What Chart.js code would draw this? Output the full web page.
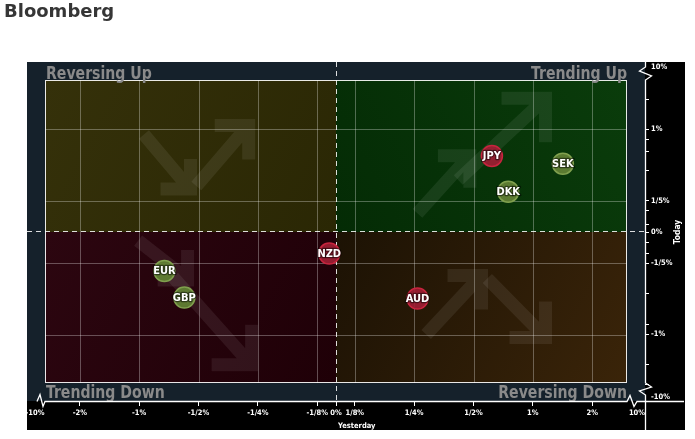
<!DOCTYPE html>
<html>
<head>
<meta charset="utf-8">
<title>Bloomberg</title>
<script src="https://cdn.jsdelivr.net/npm/chart.js@4.4.0/dist/chart.umd.min.js"></script>
<style>
    html, body { margin: 0; padding: 0; background: #fff; }
    #wrap { position: relative; width: 695px; height: 439px; }
    #title {
        position: absolute; left: 4px; top: 2px;
        font: bold 18px "DejaVu Sans", sans-serif; line-height: 18px;
        color: #363636;
    }
    canvas { display: block; }
</style>
</head>
<body>
<div id="wrap">
    <canvas id="trendChart" width="695" height="439"></canvas>
    <div id="title">Bloomberg</div>
</div>
<script>
// Data (percent change)
const currencies   = ['JPY', 'SEK', 'DKK', 'NZD', 'AUD', 'EUR', 'GBP'];
const yesterdayPct = [0.62, 1.42, 0.75, -0.045, 0.26, -0.745, -0.59];
const todayPct     = [0.63, 0.54, 0.27, -0.13, -0.52, -0.26, -0.51];
const redCurrencies = ['JPY', 'NZD', 'AUD'];

const xTickValues = [-10, -2, -1, -0.5, -0.25, -0.125, 0, 0.125, 0.25, 0.5, 1, 2, 10];
const xTickLabels = ['-10%', '-2%', '-1%', '-1/2%', '-1/4%', '-1/8%', '0%', '1/8%', '1/4%', '1/2%', '1%', '2%', '10%'];
const yTickValues = [10, 1, 0.2, 0, -0.2, -1, -10];
const yTickLabels = ['10%', '1%', '1/5%', '0%', '-1/5%', '-1%', '-10%'];
const yMinorTicks = [5.1, 0.85, 0.68, 0.47, 0.13, 0.04, -0.06, -0.13, -0.47, -0.85, -5.1, -7.8];
const xGridValues = [-2, -1, -0.5, -0.25, -0.125, 0.125, 0.25, 0.5, 1, 2];
const yGridValues = [1, 0.2, -0.2, -1];

const quadrantNames = ['Reversing Up', 'Trending Up', 'Trending Down', 'Reversing Down'];
const axisNames = { x: 'Yesterday', y: 'Today' };

const LABEL_FONT = '"DejaVu Sans Condensed", "DejaVu Sans", sans-serif';

// x: linear to 1/8%, one doubling per step up to 2%, broken above
function sx(v) {
    const a = Math.abs(v);
    let d;
    if (a <= 0.125) d = 18.8 * a / 0.125;
    else if (a <= 2) d = 18.8 + 59.35 * Math.log2(a / 0.125);
    else d = 256.2 + 52.8 * (a - 2) / 8;
    return Math.sign(v) * d;
}

// y: log-like up to 1%, broken above
function sy(v) {
    const a = Math.abs(v);
    let d;
    if (a <= 1) d = 93.3 * Math.log(1 + a / 0.5);
    else d = 102.5 + 66.5 * (a - 1) / 9;
    return Math.sign(v) * d;
}

class TrendChart {
    constructor(canvasId) {
        this.canvas = document.getElementById(canvasId);
        this.init();
    }

    init() {
        const yTicks = yTickValues.map((v, i) => ({ v, label: yTickLabels[i] }))
            .concat(yMinorTicks.map(v => ({ v, label: '' })));
        this.yTicks = yTicks;

        this.chart = new Chart(this.canvas, {
            type: 'scatter',
            data: {
                datasets: [{
                    data: currencies.map((c, i) => ({ x: sx(yesterdayPct[i]), y: sy(todayPct[i]) })),
                    backgroundColor: currencies.map(c => redCurrencies.includes(c) ? 'rgba(158,30,52,0.92)' : 'rgba(96,126,52,0.95)'),
                    borderColor: currencies.map(c => redCurrencies.includes(c) ? '#c8243e' : '#80a04e'),
                    borderWidth: 1.5,
                    pointRadius: 10.5,
                    pointHoverRadius: 10.5
                }]
            },
            options: {
                responsive: false,
                animation: false,
                layout: { padding: { left: 27, top: 62, right: 0, bottom: 8 } },
                plugins: {
                    legend: { display: false },
                    tooltip: { enabled: false }
                },
                scales: {
                    x: {
                        type: 'linear',
                        min: -309, max: 309,
                        afterBuildTicks: s => {
                            s.ticks = xTickValues.map(v => ({
                                value: Math.abs(v) === 10 ? Math.sign(v) * (Math.abs(sx(v)) - 8) : sx(v)
                            }));
                        },
                        afterFit: s => { s.height = 30; },
                        ticks: {
                            autoSkip: false, maxRotation: 0, padding: 3,
                            color: '#fff',
                            font: { family: LABEL_FONT, size: 7.5, weight: 'bold' },
                            callback: (val, i) => xTickLabels[i]
                        },
                        grid: {
                            drawOnChartArea: false, tickLength: 5, tickWidth: 1,
                            tickColor: c => (c.tick && Math.abs(c.tick.value) > 290) ? 'rgba(0,0,0,0)' : '#fff'
                        },
                        border: { display: false }
                    },
                    y: {
                        type: 'linear',
                        position: 'right',
                        min: -169, max: 170,
                        afterBuildTicks: s => {
                            s.ticks = yTicks.map(t => ({
                                value: Math.abs(t.v) === 10 ? Math.sign(t.v) * (Math.abs(sy(t.v)) - 4) : sy(t.v)
                            }));
                        },
                        afterFit: s => { s.width = 50; },
                        ticks: {
                            autoSkip: false, padding: 2,
                            color: '#fff',
                            font: { family: LABEL_FONT, size: 7.5, weight: 'bold' },
                            callback: (val, i) => yTicks[i].label
                        },
                        grid: {
                            drawOnChartArea: false, tickLength: 4, tickWidth: 1,
                            tickColor: c => (c.tick && Math.abs(c.tick.value) > 160) ? 'rgba(0,0,0,0)' : '#fff'
                        },
                        border: { display: false }
                    }
                }
            },
            plugins: [
                { id: 'background', beforeDraw: chart => this.drawBackground(chart) },
                { id: 'axisLines', afterDraw: chart => this.drawAxes(chart) },
                { id: 'pointLabels', afterDatasetsDraw: chart => this.drawPointLabels(chart) }
            ]
        });
    }

    fillQuad(ctx, x1, y1, x2, y2, gx1, gy1, gx2, gy2, c1, c2) {
        const g = ctx.createLinearGradient(gx1, gy1, gx2, gy2);
        g.addColorStop(0, c1);
        g.addColorStop(1, c2);
        ctx.fillStyle = g;
        ctx.fillRect(x1, y1, x2 - x1, y2 - y1);
    }

    drawArrow(ctx, box, a) {
        const w = box.right - box.left, h = box.bottom - box.top;
        const tx = box.left + a[0] * w, ty = box.top + a[1] * h;
        const px = box.left + a[2] * w, py = box.top + a[3] * h;
        const head = a[4];
        const dx = Math.sign(px - tx), dy = Math.sign(py - ty);
        ctx.beginPath();
        ctx.moveTo(tx, ty);
        ctx.lineTo(px - dx * 3, py - dy * 3);
        ctx.moveTo(px - dx * head, py);
        ctx.lineTo(px, py);
        ctx.lineTo(px, py - dy * head);
        ctx.stroke();
    }

    drawLabel(ctx, text, x, y, align) {
        const sxk = 0.87;
        ctx.save();
        ctx.translate(x, y);
        ctx.scale(sxk, 1);
        ctx.textAlign = align;
        ctx.fillText(text, 0, 0);
        ctx.restore();
    }

    drawBackground(chart) {
        const { ctx, chartArea: ca, scales: { x, y } } = chart;
        const x0 = x.getPixelForValue(0), y0 = y.getPixelForValue(0);
        const box = { left: ca.left + 18, top: ca.top + 18, right: ca.right - 18, bottom: ca.bottom - 18 };
        ctx.save();

        // Axis band and panel
        ctx.fillStyle = '#000';
        ctx.fillRect(ca.left, ca.top, ca.right - ca.left + 40, ca.bottom - ca.top + 29);
        ctx.fillStyle = '#15212b';
        ctx.fillRect(ca.left, ca.top, ca.right - ca.left, ca.bottom - ca.top);

        // Quadrants
        this.fillQuad(ctx, box.left, box.top, x0, y0, box.left, box.top, x0, y0, '#35310a', '#2a2704');
        this.fillQuad(ctx, x0, box.top, box.right, y0, box.right, box.top, x0, y0, '#0a3c0b', '#042b05');
        this.fillQuad(ctx, box.left, y0, x0, box.bottom, box.left, y0, x0, box.bottom, '#2c0610', '#1f0007');
        this.fillQuad(ctx, x0, y0, box.right, box.bottom, x0, y0, box.right, box.bottom, '#1c1204', '#3a2409');

        // Arrows (tail x, tail y, tip x, tip y as fractions of the plot box, head size)
        const arrows = [
            [0.17, 0.18, 0.25, 0.36, 30], [0.26, 0.35, 0.35, 0.15, 34],
            [0.64, 0.44, 0.73, 0.25, 32], [0.71, 0.33, 0.86, 0.06, 44],
            [0.16, 0.53, 0.245, 0.66, 30], [0.22, 0.65, 0.355, 0.94, 40],
            [0.655, 0.84, 0.75, 0.645, 34], [0.76, 0.655, 0.86, 0.85, 36]
        ];
        ctx.strokeStyle = 'rgba(255,255,255,0.075)';
        ctx.lineWidth = 13;
        ctx.lineCap = 'butt';
        ctx.lineJoin = 'miter';
        arrows.forEach(a => this.drawArrow(ctx, box, a));

        // Grid
        ctx.strokeStyle = 'rgba(255,255,255,0.3)';
        ctx.lineWidth = 1;
        ctx.beginPath();
        xGridValues.forEach(v => {
            const px = Math.round(x.getPixelForValue(sx(v))) + 0.5;
            ctx.moveTo(px, box.top);
            ctx.lineTo(px, box.bottom);
        });
        yGridValues.forEach(v => {
            const py = Math.round(y.getPixelForValue(sy(v))) + 0.5;
            ctx.moveTo(box.left, py);
            ctx.lineTo(box.right, py);
        });
        ctx.stroke();

        // Plot border
        ctx.strokeStyle = 'rgba(255,255,255,0.9)';
        ctx.strokeRect(box.left + 0.5, box.top + 0.5, box.right - box.left - 1, box.bottom - box.top - 1);

        // Zero lines
        ctx.setLineDash([5, 4]);
        ctx.strokeStyle = 'rgba(255,255,255,0.85)';
        ctx.beginPath();
        ctx.moveTo(Math.round(x0) + 0.5, ca.top);
        ctx.lineTo(Math.round(x0) + 0.5, ca.bottom);
        ctx.moveTo(ca.left, Math.round(y0) - 0.5);
        ctx.lineTo(ca.right, Math.round(y0) - 0.5);
        ctx.stroke();
        ctx.setLineDash([]);

        // Quadrant names
        ctx.fillStyle = '#8a8a8a';
        ctx.font = 'bold 18px ' + LABEL_FONT;
        ctx.textBaseline = 'alphabetic';
        this.drawLabel(ctx, quadrantNames[0], box.left + 1, box.top - 1, 'left');
        this.drawLabel(ctx, quadrantNames[2], box.left + 1, ca.bottom - 3, 'left');
        this.drawLabel(ctx, quadrantNames[1], box.right, box.top - 1, 'right');
        this.drawLabel(ctx, quadrantNames[3], box.right, ca.bottom - 3, 'right');

        ctx.restore();
    }

    drawAxes(chart) {
        const { ctx, chartArea: ca, scales: { x, y } } = chart;
        const x0 = x.getPixelForValue(0), y0 = y.getPixelForValue(0);
        const yb = ca.bottom + 0.5, xr = ca.right + 0.5;
        ctx.save();
        ctx.strokeStyle = '#fff';
        ctx.lineWidth = 1.3;
        ctx.lineJoin = 'miter';

        // x axis with breaks
        ctx.beginPath();
        ctx.moveTo(ca.left + 10, yb);
        ctx.lineTo(ca.left + 13, yb - 7);
        ctx.lineTo(ca.left + 16, yb + 5);
        ctx.lineTo(ca.left + 18, yb);
        ctx.lineTo(ca.right - 18, yb);
        ctx.lineTo(ca.right - 15, yb - 6);
        ctx.lineTo(ca.right - 11, yb + 5);
        ctx.lineTo(ca.right - 8, yb);
        ctx.lineTo(ca.right + 39, yb);
        ctx.stroke();

        // y axis with breaks
        ctx.beginPath();
        ctx.moveTo(xr, ca.top);
        ctx.lineTo(xr, ca.top + 5);
        ctx.lineTo(xr - 6, ca.top + 9);
        ctx.lineTo(xr + 6, ca.top + 14);
        ctx.lineTo(xr, ca.top + 18);
        ctx.lineTo(xr, ca.bottom - 18);
        ctx.lineTo(xr + 6, ca.bottom - 14);
        ctx.lineTo(xr - 6, ca.bottom - 10);
        ctx.lineTo(xr, ca.bottom - 6);
        ctx.lineTo(xr, ca.bottom + 29);
        ctx.stroke();

        // Axis names
        ctx.fillStyle = '#fff';
        ctx.font = 'bold 7.5px ' + LABEL_FONT;
        ctx.textAlign = 'left';
        ctx.textBaseline = 'alphabetic';
        ctx.fillText(axisNames.x, x0 + 2, ca.bottom + 27);
        ctx.translate(ca.right + 33, y0);
        ctx.rotate(-Math.PI / 2);
        ctx.textAlign = 'center';
        ctx.textBaseline = 'middle';
        ctx.font = 'bold 8.5px ' + LABEL_FONT;
        ctx.fillText(axisNames.y, 0, 0);
        ctx.restore();
    }

    drawPointLabels(chart) {
        const { ctx } = chart;
        const meta = chart.getDatasetMeta(0);
        ctx.save();
        ctx.font = 'bold 11px "DejaVu Sans Condensed", "DejaVu Sans", sans-serif';
        ctx.textAlign = 'center';
        ctx.textBaseline = 'middle';
        ctx.lineJoin = 'round';
        meta.data.forEach((pt, i) => {
            ctx.lineWidth = 2.5;
            ctx.strokeStyle = 'rgba(0,0,0,0.5)';
            ctx.strokeText(currencies[i], pt.x, pt.y + 0.5);
            ctx.fillStyle = '#fff';
            ctx.fillText(currencies[i], pt.x, pt.y + 0.5);
        });
        ctx.restore();
    }
}

const trendChart = new TrendChart('trendChart');
window.trendChart = trendChart;
</script>
</body>
</html>
